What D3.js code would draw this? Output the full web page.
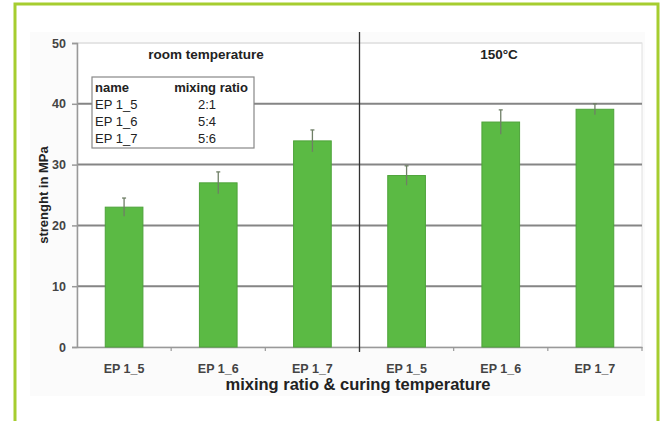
<!DOCTYPE html>
<html><head><meta charset="utf-8">
<script src="https://cdn.jsdelivr.net/npm/d3@7"></script>
<style>body{margin:0;background:#fff}svg{display:block;font-family:"Liberation Sans",Arial,sans-serif}</style>
</head><body>
<svg id="c" width="660" height="421"></svg>
<script>
const categories = ["EP 1_5","EP 1_6","EP 1_7","EP 1_5","EP 1_6","EP 1_7"];
const strength = [23.0, 27.0, 33.9, 28.2, 37.0, 39.1];
const errors = [1.5, 1.8, 1.8, 1.6, 2.0, 0.9];
const yTicks = [0,10,20,30,40,50];
const groupLabels = ["room temperature","150°C"];
const legendNames = ["EP 1_5","EP 1_6","EP 1_7"];
const legendRatios = ["2:1","5:4","5:6"];

const FF = "Liberation Sans, Arial, sans-serif";
const svg = d3.select("#c");
const L = 77, R = 642, T = 43, B = 347;
const idx = categories.map((d,i)=>i);
const x = d3.scaleBand().domain(idx).range([L,R]).paddingInner(0.6).paddingOuter(0.3);
const y = d3.scaleLinear().domain([0,50]).range([B,T]);

// green frame
svg.append("path").attr("d","M15,425 V4 H658 V425").attr("fill","none").attr("stroke","#a6cd2f").attr("stroke-width",3);
// faint background
svg.append("rect").attr("x",30).attr("y",32).attr("width",615).attr("height",364).attr("fill","#fbfbfb");
svg.append("rect").attr("x",L).attr("y",T).attr("width",R-L).attr("height",B-T).attr("fill","#fff").attr("stroke","#e0e0e0");

// gridlines
svg.append("g").selectAll("line").data(yTicks.filter(t=>t>0)).join("line")
  .attr("x1",L).attr("x2",R).attr("y1",d=>y(d)).attr("y2",d=>y(d))
  .attr("stroke",d=>d===50?"#e2e2e2":"#858585").attr("stroke-width",d=>d===50?1.5:2);

// y axis
const ya = svg.append("g").attr("transform",`translate(${L},0)`)
  .call(d3.axisLeft(y).tickValues(yTicks).tickSize(5).tickPadding(6));
ya.select(".domain").attr("stroke","#999").attr("stroke-width",1.5);
ya.selectAll(".tick line").attr("stroke","#999").attr("stroke-width",1.5);
ya.selectAll("text").attr("font-size",12.5).attr("font-weight","bold").attr("fill","#444").attr("font-family",FF);

// x axis
const xa = svg.append("g").attr("transform",`translate(0,${B})`)
  .call(d3.axisBottom(x).tickFormat(i=>categories[i]).tickSize(0).tickPadding(17));
xa.select(".domain").attr("stroke","#999").attr("stroke-width",1.5);
xa.selectAll("text").attr("font-size",12.5).attr("font-weight","bold").attr("fill","#444").attr("font-family",FF);
svg.append("g").selectAll("line").data(d3.range(1,7)).join("line")
  .attr("x1",i=>L+i*(R-L)/6).attr("x2",i=>L+i*(R-L)/6).attr("y1",B).attr("y2",B+4)
  .attr("stroke","#999").attr("stroke-width",1.2);

// bars
svg.append("g").selectAll("rect").data(strength).join("rect")
  .attr("x",(d,i)=>x(i)).attr("width",x.bandwidth())
  .attr("y",d=>y(d)).attr("height",d=>B-y(d))
  .attr("fill","#5bba44").attr("stroke","#4ea33a").attr("stroke-width",1);

// error bars
const eb = svg.append("g").attr("stroke","#6f7f66").attr("stroke-width",1.3);
strength.forEach((v,i)=>{
  const cx = x(i)+x.bandwidth()/2;
  eb.append("line").attr("x1",cx).attr("x2",cx).attr("y1",y(v+errors[i])).attr("y2",y(v-errors[i]));
  eb.append("line").attr("x1",cx-2).attr("x2",cx+2).attr("y1",y(v+errors[i])).attr("y2",y(v+errors[i]));
});

// divider
const divX = L + 3*(R-L)/6;
svg.append("line").attr("x1",divX).attr("x2",divX).attr("y1",32).attr("y2",352).attr("stroke","#333").attr("stroke-width",1.3);

// group labels
svg.append("text").attr("x",206).attr("y",59).attr("text-anchor","middle").attr("font-size",13.5).attr("font-weight","bold").attr("fill","#222").text(groupLabels[0]);
svg.append("text").attr("x",499).attr("y",59).attr("text-anchor","middle").attr("font-size",13.5).attr("font-weight","bold").attr("fill","#222").text(groupLabels[1]);

// legend table
svg.append("rect").attr("x",92).attr("y",77).attr("width",162).attr("height",71).attr("fill","#fff").attr("stroke","#888").attr("stroke-width",1.2);
const lg = svg.append("g").attr("font-size",13).attr("fill","#222");
lg.append("text").attr("x",95).attr("y",92).attr("font-weight","bold").text("name");
lg.append("text").attr("x",211).attr("y",92).attr("text-anchor","middle").attr("font-weight","bold").text("mixing ratio");
legendNames.forEach((n,i)=>{
  lg.append("text").attr("x",95).attr("y",109+i*17).text(n);
  lg.append("text").attr("x",207).attr("y",109+i*17).attr("text-anchor","middle").text(legendRatios[i]);
});

// axis titles
svg.append("text").attr("transform","translate(48,195) rotate(-90)").attr("text-anchor","middle")
  .attr("font-size",13).attr("font-weight","bold").attr("fill","#222").text("strenght in MPa");
svg.append("text").attr("x",358).attr("y",390).attr("text-anchor","middle")
  .attr("font-size",16.5).attr("font-weight","bold").attr("fill","#222").text("mixing ratio & curing temperature");
</script>
</body></html>
